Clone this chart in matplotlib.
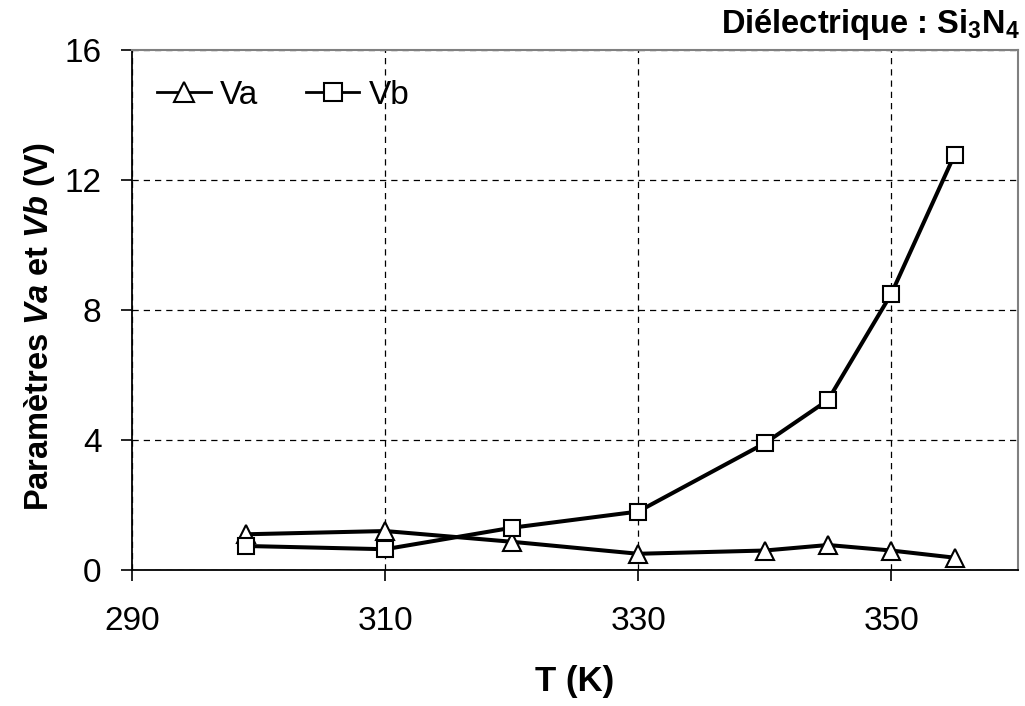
import matplotlib
matplotlib.use("Agg")
import matplotlib.pyplot as plt

T = [299, 310, 320, 330, 340, 345, 350, 355]
Va = [1.1, 1.2, 0.87, 0.5, 0.6, 0.77, 0.6, 0.38]
Vb = [0.74, 0.64, 1.3, 1.8, 3.9, 5.23, 8.5, 12.78]
xticks = [290, 310, 330, 350]
yticks = [0, 4, 8, 12, 16]

plt.rcParams['font.family'] = ['Liberation Sans', 'DejaVu Sans']
plt.rcParams['mathtext.fontset'] = 'custom'
plt.rcParams['mathtext.rm'] = 'Liberation Sans'
plt.rcParams['mathtext.it'] = 'Liberation Sans:italic'
plt.rcParams['mathtext.bf'] = 'Liberation Sans:bold'
plt.rcParams['mathtext.bfit'] = 'Liberation Sans:italic:bold'

fig = plt.figure(figsize=(10.25, 7.06), dpi=100)
ax = fig.add_axes([0.1288, 0.1926, 0.8642, 0.7364])

ax.plot(T, Va, color='black', lw=2.9, marker='^', ms=13.5, mfc='white', mec='black', mew=1.5, label='Va', zorder=3)
ax.plot(T, Vb, color='black', lw=2.9, marker='s', ms=11.5, mfc='white', mec='black', mew=1.5, label='Vb', zorder=3)

ax.set_xlim(290, 360)
ax.set_ylim(0, 16)
ax.set_xticks(xticks)
ax.set_yticks(yticks)
ax.tick_params(axis='both', labelsize=24, direction='out', length=8, width=1.2)
ax.tick_params(axis='x', pad=18)
ax.tick_params(axis='y', pad=14)
ax.grid(True, color='black', linestyle=(0, (5, 4)), lw=0.9)
ax.set_axisbelow(True)
for s in ['top', 'right']:
    ax.spines[s].set_color('#808080')
    ax.spines[s].set_linewidth(1.5)
for s in ['left', 'bottom']:
    ax.spines[s].set_color('black')
    ax.spines[s].set_linewidth(1.3)

ax.set_xlabel('T (K)', fontsize=25, fontweight='bold', labelpad=20)
ax.set_ylabel(r'Paramètres $\mathbfit{Va}$ et $\mathbfit{Vb}$ (V)', fontsize=23.5, fontweight='bold')
ax.yaxis.set_label_coords(-0.085, 0.468)

leg = ax.legend(loc='upper left', ncol=2, frameon=False, fontsize=24, handlelength=1.6,
                columnspacing=1.45, handletextpad=0.27, bbox_to_anchor=(0.004, 0.985),
                borderaxespad=0.35, borderpad=0.3, markerscale=1.1)
for ln in leg.get_lines():
    ln.set_linewidth(2.0)

fig.text(0.995, 0.99, r'Diélectrique : Si$_\mathbf{3}$N$_\mathbf{4}$', ha='right', va='top',
         fontsize=23.5, fontweight='bold')

fig.savefig('out.png', dpi=100)
